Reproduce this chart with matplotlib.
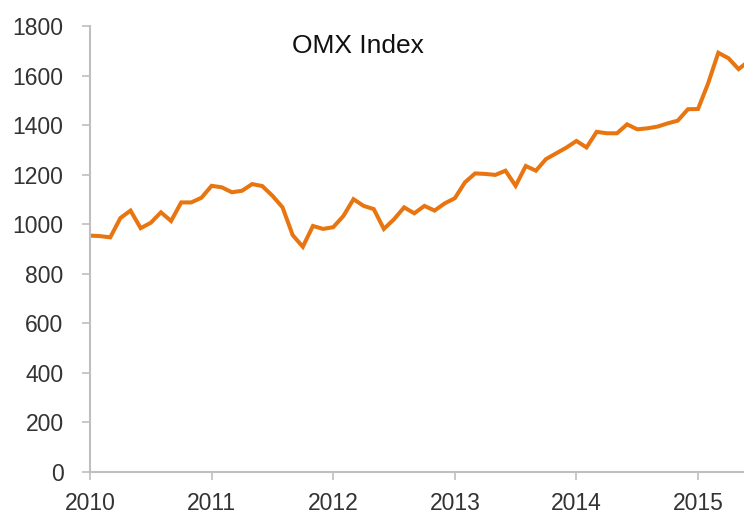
import numpy as np
import matplotlib
matplotlib.use("Agg")
from matplotlib import pyplot as plt

plt.rcParams['font.family'] = ['Liberation Sans', 'DejaVu Sans']

# monthly closes, Jan 2010 .. Jun 2015
start_year = 2010
omx = [954, 952, 947, 1025, 1055, 984, 1006, 1048, 1013, 1088, 1088, 1107,
       1155, 1149, 1129, 1135, 1162, 1154, 1115, 1068, 956, 909, 993, 981,
       988, 1033, 1101, 1074, 1061, 981, 1020, 1068, 1044, 1074, 1055, 1084,
       1105, 1169, 1205, 1203, 1199, 1216, 1155, 1235, 1216, 1263, 1286, 1309,
       1336, 1310, 1373, 1367, 1367, 1403, 1383, 1387, 1394, 1407, 1418, 1464,
       1465, 1569, 1692, 1670, 1626, 1658]
years = [2010, 2011, 2012, 2013, 2014, 2015]
yticks = [0, 200, 400, 600, 800, 1000, 1200, 1400, 1600, 1800]

t = start_year + np.arange(len(omx)) / 12.0

fig = plt.figure(figsize=(7.44, 5.14), dpi=100)
ax = fig.add_axes([90 / 744, 1 - 472 / 514, 654 / 744, 446 / 514])

ax.plot(t, omx, color='#E8750F', lw=2.9, solid_joinstyle='miter')

ax.set_xlim(2010, 2015.378)
ax.set_ylim(0, 1800)
ax.set_xticks(years)
ax.set_xticklabels([str(y) for y in years])
ax.set_yticks(yticks)

for s in ['top', 'right']:
    ax.spines[s].set_visible(False)
for s in ['left', 'bottom']:
    ax.spines[s].set_color('#BFBFBF')
    ax.spines[s].set_linewidth(1.5)
ax.tick_params(axis='both', direction='out', length=6, width=1.2,
               color='#BFBFBF', labelsize=16.5, labelcolor='#333333')
ax.tick_params(axis='y', pad=13)
ax.tick_params(axis='x', pad=8.5)

ax.text(0.409, 0.955, 'OMX Index', transform=ax.transAxes, ha='center',
        va='center', fontsize=19, color='#111111')

fig.savefig('out.png', dpi=100)
